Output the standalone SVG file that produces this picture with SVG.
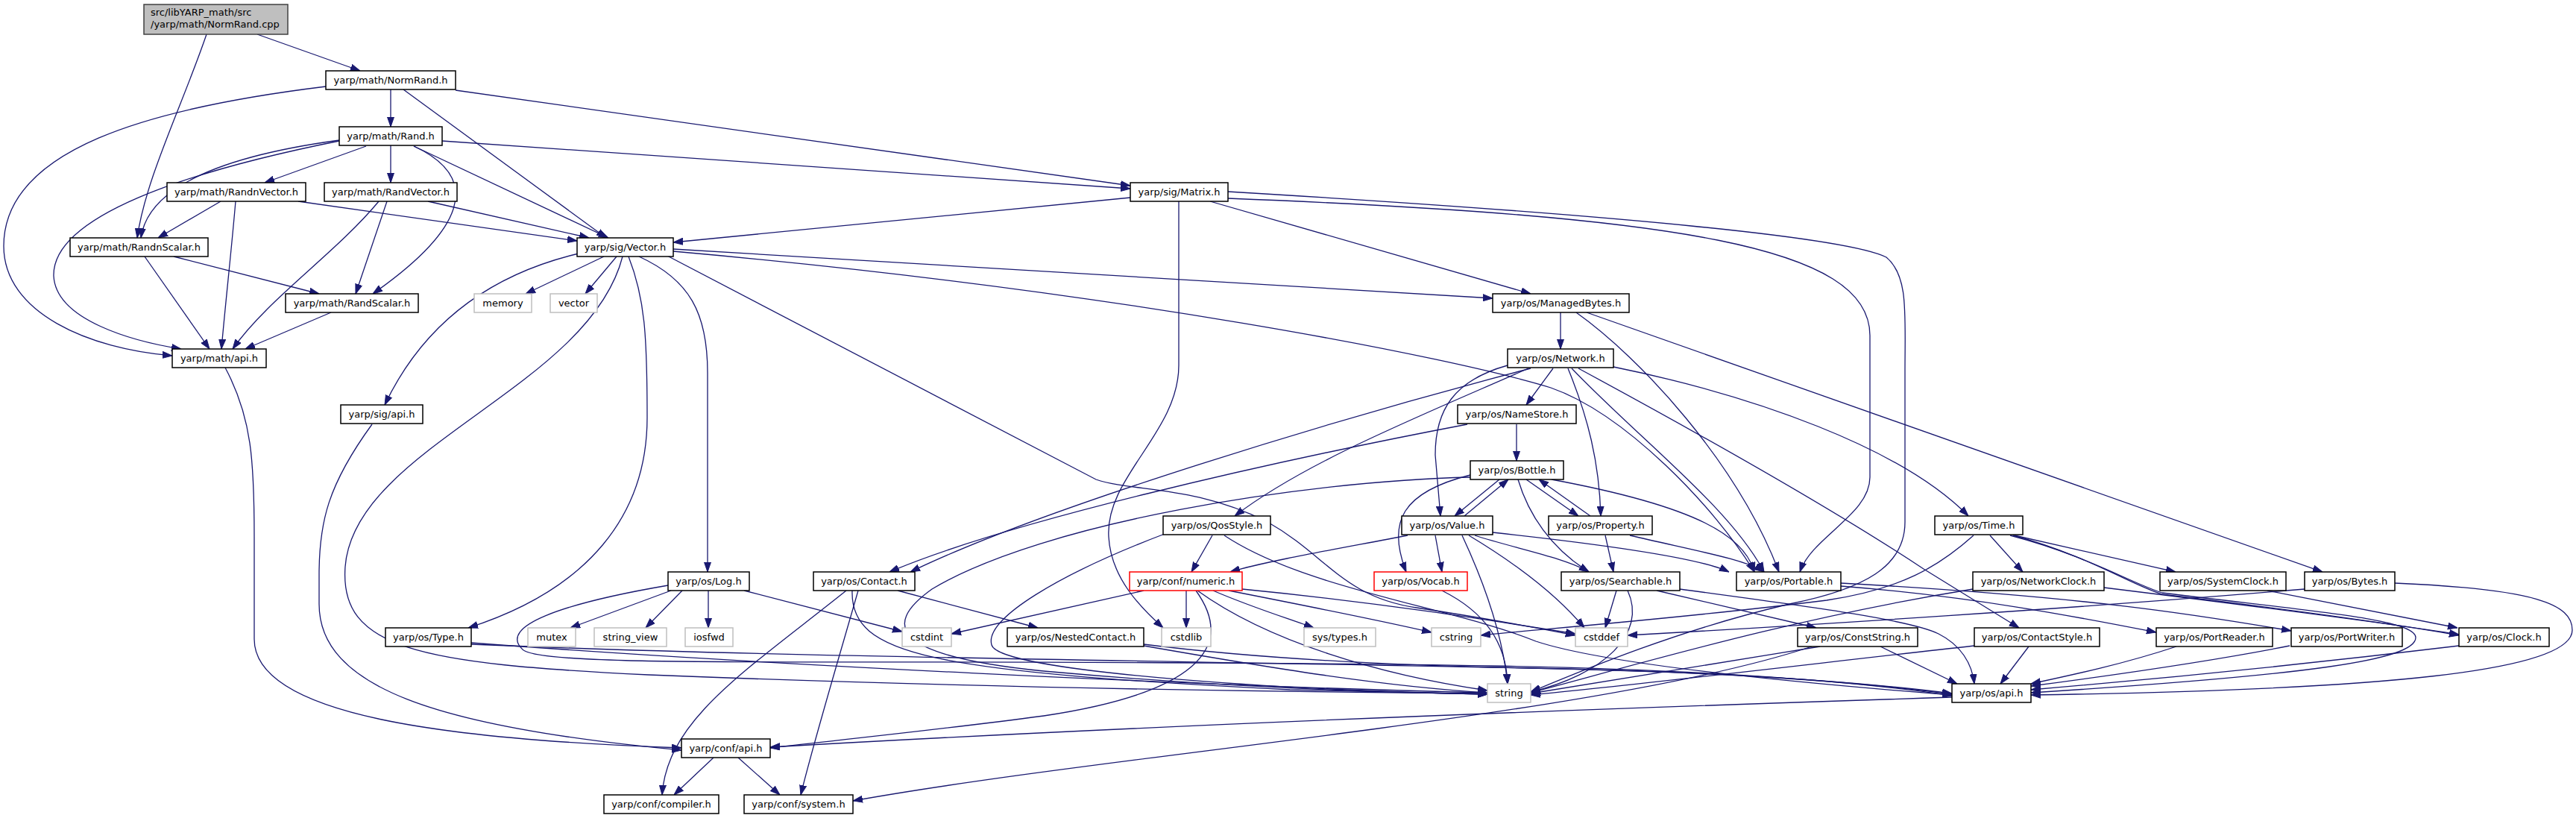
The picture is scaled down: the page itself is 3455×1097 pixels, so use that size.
<svg xmlns="http://www.w3.org/2000/svg" width="3455" height="1097" viewBox="0 0 3455 1097">
<defs>
<style>
.n rect{fill:#fff;stroke:#000;stroke-width:1.5}
.n.g rect{stroke:#bfbfbf}
.n.r rect{stroke:#ff0000}
.n.root rect{fill:#bfbfbf;stroke:#404040}
text{font-family:"DejaVu Sans","Liberation Sans",sans-serif;font-size:13px;text-anchor:middle;fill:#000}
.root text{text-anchor:start}
#edges path{fill:none;stroke:#191970;stroke-width:1.3;marker-end:url(#a)}
</style>
<marker id="a" viewBox="0 0 13 10" refX="13" refY="5" markerWidth="13" markerHeight="10" markerUnits="userSpaceOnUse" orient="auto"><path d="M0,0.5L13,5L0,9.5z" fill="#191970" stroke="#191970" stroke-width="1"/></marker>
</defs>
<rect width="3455" height="1097" fill="#fff"/>
<g id="edges">
<path d="M345,46 L483,95"/>
<path d="M277,46 C245,140 195,240 184,319"/>
<path d="M524,120 L524,170"/>
<path d="M541,120 L813,319"/>
<path d="M611,121 L1516,249"/>
<path d="M437,116 C200,145 5,200 5,330 C5,420 120,468 231,477"/>
<path d="M491,196 L355,245"/>
<path d="M524,195 L524,245"/>
<path d="M455,188 C330,205 200,240 189,319"/>
<path d="M555,196 L816,319"/>
<path d="M593,189 L1516,253"/>
<path d="M455,189 C250,230 70,290 72,370 C75,430 180,458 243,468"/>
<path d="M555,196 C650,240 620,310 500,394"/>
<path d="M296,270 L212,319"/>
<path d="M316,270 C310,340 303,400 297,468"/>
<path d="M400,270 L774,323"/>
<path d="M519,270 L477,394"/>
<path d="M508,270 C450,340 360,400 312,468"/>
<path d="M574,270 L790,319"/>
<path d="M194,344 L281,468"/>
<path d="M233,344 L428,394"/>
<path d="M444,419 L329,468"/>
<path d="M302,493 C338,560 341,620 341,720 L341,857 C341,960 600,992 914,1003"/>
<path d="M499,569 C440,650 428,700 428,770 L428,810 C428,920 580,975 914,1006"/>
<path d="M1516,265 L903,325"/>
<path d="M776,340 C650,370 565,440 516,543"/>
<path d="M810,344 L705,394"/>
<path d="M827,344 L785,394"/>
<path d="M857,344 C925,375 949,420 949,500 L949,767"/>
<path d="M843,344 C865,400 868,450 868,560 C868,690 790,790 628,842"/>
<path d="M835,344 C790,520 475,600 463,760 C455,870 560,890 870,905 C1300,922 1700,928 1995,930"/>
<path d="M893,342 L1470,643 C1520,660 1600,650 1700,700 C1780,745 1800,800 1900,815 C2000,830 2060,842 2113,852"/>
<path d="M903,334 L2002,400"/>
<path d="M903,337 C1500,390 1950,480 2080,520 C2180,555 2300,680 2353,767"/>
<path d="M1623,270 L2053,394"/>
<path d="M1647,266 C2250,290 2508,330 2508,450 L2508,640 C2508,690 2430,720 2414,767"/>
<path d="M1581,270 L1581,490 C1581,580 1482,640 1487,720 C1490,775 1530,815 1560,842"/>
<path d="M1647,257 C2200,290 2480,320 2530,345 C2560,370 2555,420 2555,500 L2555,700 C2555,760 2500,790 2400,810 C2250,845 2120,900 2053,928"/>
<path d="M2093,419 L2093,468"/>
<path d="M2114,419 C2200,480 2330,620 2386,767"/>
<path d="M2128,419 L3115,767"/>
<path d="M2083,494 L2047,543"/>
<path d="M2022,490 C1950,510 1925,550 1925,610 L1932,692"/>
<path d="M2103,494 C2130,560 2145,620 2147,692"/>
<path d="M2053,494 C1800,560 1400,680 1221,767"/>
<path d="M2050,494 C1900,560 1750,620 1656,692"/>
<path d="M2108,494 C2200,590 2320,680 2366,767"/>
<path d="M2117,494 C2350,620 2500,710 2580,763 L2708,842"/>
<path d="M2164,492 C2350,530 2550,600 2640,692"/>
<path d="M2034,569 L2034,618"/>
<path d="M1968,569 C1700,620 1350,700 1193,767"/>
<path d="M2011,643 L1951,692"/>
<path d="M1964,692 L2023,643"/>
<path d="M2047,643 L2117,692"/>
<path d="M2133,692 L2064,643"/>
<path d="M2081,643 C2280,680 2340,720 2353,767"/>
<path d="M2036,643 C2050,690 2080,735 2131,767"/>
<path d="M1972,637 C1880,660 1860,700 1886,767"/>
<path d="M1972,640 C1750,645 1400,700 1250,790 C1180,840 1200,880 1400,900 C1600,918 1800,928 1995,931"/>
<path d="M1925,718 L1934,767"/>
<path d="M1888,718 C1800,735 1700,752 1650,767"/>
<path d="M1978,718 C2030,735 2100,748 2131,767"/>
<path d="M2002,714 C2150,730 2280,748 2319,767"/>
<path d="M1961,718 C1990,780 2015,850 2022,917"/>
<path d="M1970,718 C2040,760 2090,800 2125,842"/>
<path d="M2153,718 L2164,767"/>
<path d="M2186,718 C2280,740 2340,750 2366,767"/>
<path d="M1626,718 L1598,767"/>
<path d="M1562,716 C1420,770 1320,830 1330,865 C1340,900 1700,925 1995,931"/>
<path d="M1642,718 C1750,790 1950,815 2060,860 C2150,890 2400,915 2618,932"/>
<path d="M1204,792 L1392,842"/>
<path d="M1143,792 C1140,880 1250,900 1730,925 L1995,931"/>
<path d="M1135,792 C1000,900 895,965 888,1066"/>
<path d="M1151,792 C1120,900 1090,1000 1074,1066"/>
<path d="M900,792 L765,842"/>
<path d="M915,792 L866,842"/>
<path d="M950,792 L950,842"/>
<path d="M998,792 L1210,847"/>
<path d="M896,785 C750,810 670,840 700,870 C720,900 1200,880 2000,893 C2300,898 2500,915 2618,933"/>
<path d="M632,862 C1000,890 1600,920 1995,929"/>
<path d="M632,864 C1000,880 1500,885 2000,895 C2300,900 2500,915 2618,930"/>
<path d="M1534,792 L1276,850"/>
<path d="M1591,792 L1591,842"/>
<path d="M1604,792 C1660,870 1600,930 1400,960 C1250,980 1100,995 1033,1003"/>
<path d="M1627,792 C1680,815 1730,830 1762,842"/>
<path d="M1648,792 C1750,812 1850,832 1920,848"/>
<path d="M1606,792 C1700,860 1850,905 1995,926"/>
<path d="M1666,790 C1850,808 2000,832 2113,850"/>
<path d="M1934,792 C1990,820 2020,860 2022,917"/>
<path d="M2168,792 L2153,842"/>
<path d="M2183,792 C2210,850 2150,905 2053,928"/>
<path d="M2222,792 L2436,842"/>
<path d="M2253,790 C2400,810 2560,830 2600,850 C2630,865 2645,890 2648,917"/>
<path d="M2469,786 C2650,800 2800,830 2892,848"/>
<path d="M2469,782 C2800,800 2950,825 3073,846"/>
<path d="M2441,867 C2300,890 2150,915 2053,930"/>
<path d="M2522,867 L2625,917"/>
<path d="M2430,867 C2150,960 1500,1010 1144,1074"/>
<path d="M1534,864 C1700,885 1900,893 2050,896 C2300,900 2500,915 2618,931"/>
<path d="M1534,866 C1700,895 1850,920 1995,929"/>
<path d="M2721,867 L2683,917"/>
<path d="M2648,866 C2450,888 2200,918 2053,932"/>
<path d="M2822,788 C3000,810 3200,835 3298,851"/>
<path d="M2646,790 C2400,830 2200,890 2053,929"/>
<path d="M2669,718 L2713,767"/>
<path d="M2702,718 L2918,767"/>
<path d="M2700,718 C2800,745 2860,785 2900,797 C3050,815 3200,835 3298,852"/>
<path d="M2696,718 C2800,745 2860,783 2900,795 C3100,820 3240,830 3240,855 C3240,885 3100,905 2724,929"/>
<path d="M2647,718 C2600,760 2550,790 2450,805 C2250,830 2050,845 1986,852"/>
<path d="M3041,792 L3296,842"/>
<path d="M3212,782 C3400,790 3450,810 3450,845 C3450,900 3200,925 2724,932"/>
<path d="M3091,790 C2800,815 2400,840 2183,852"/>
<path d="M3298,866 C3100,890 2900,910 2724,925"/>
<path d="M2919,867 C2850,890 2780,905 2724,917"/>
<path d="M3071,866 C2950,890 2800,910 2724,920"/>
<path d="M2618,935 C2000,955 1500,975 1033,1002"/>
<path d="M957,1016 L904,1066"/>
<path d="M990,1016 L1046,1066"/>
</g>
<g id="n_cpp" class="n root"><rect x="193" y="6" width="193" height="40"/><text x="202" y="21">src/libYARP_math/src</text><text x="202" y="37">/yarp/math/NormRand.cpp</text></g>
<g id="n_normrand" class="n"><rect x="437" y="95" width="174" height="25"/><text x="524" y="112">yarp/math/NormRand.h</text></g>
<g id="n_rand" class="n"><rect x="455" y="170" width="138" height="25"/><text x="524" y="187">yarp/math/Rand.h</text></g>
<g id="n_randnvector" class="n"><rect x="224" y="245" width="186" height="25"/><text x="317" y="262">yarp/math/RandnVector.h</text></g>
<g id="n_randvector" class="n"><rect x="435" y="245" width="178" height="25"/><text x="524" y="262">yarp/math/RandVector.h</text></g>
<g id="n_randnscalar" class="n"><rect x="94" y="319" width="185" height="25"/><text x="186.5" y="336">yarp/math/RandnScalar.h</text></g>
<g id="n_vector" class="n"><rect x="774" y="319" width="129" height="25"/><text x="838.5" y="336">yarp/sig/Vector.h</text></g>
<g id="n_matrix" class="n"><rect x="1516" y="245" width="131" height="25"/><text x="1581.5" y="262">yarp/sig/Matrix.h</text></g>
<g id="n_randscalar" class="n"><rect x="383" y="394" width="178" height="25"/><text x="472" y="411">yarp/math/RandScalar.h</text></g>
<g id="n_memory" class="n g"><rect x="636" y="394" width="77" height="25"/><text x="674.5" y="411">memory</text></g>
<g id="n_vectorstd" class="n g"><rect x="738" y="394" width="63" height="25"/><text x="769.5" y="411">vector</text></g>
<g id="n_mathapi" class="n"><rect x="231" y="468" width="126" height="25"/><text x="294" y="485">yarp/math/api.h</text></g>
<g id="n_sigapi" class="n"><rect x="457" y="543" width="110" height="25"/><text x="512" y="560">yarp/sig/api.h</text></g>
<g id="n_managedbytes" class="n"><rect x="2002" y="394" width="183" height="25"/><text x="2093.5" y="411">yarp/os/ManagedBytes.h</text></g>
<g id="n_network" class="n"><rect x="2022" y="468" width="142" height="25"/><text x="2093" y="485">yarp/os/Network.h</text></g>
<g id="n_namestore" class="n"><rect x="1955" y="543" width="159" height="25"/><text x="2034.5" y="560">yarp/os/NameStore.h</text></g>
<g id="n_bottle" class="n"><rect x="1972" y="618" width="125" height="25"/><text x="2034.5" y="635">yarp/os/Bottle.h</text></g>
<g id="n_value" class="n"><rect x="1880" y="692" width="122" height="25"/><text x="1941" y="709">yarp/os/Value.h</text></g>
<g id="n_property" class="n"><rect x="2077" y="692" width="139" height="25"/><text x="2146.5" y="709">yarp/os/Property.h</text></g>
<g id="n_qosstyle" class="n"><rect x="1560" y="692" width="144" height="25"/><text x="1632" y="709">yarp/os/QosStyle.h</text></g>
<g id="n_time" class="n"><rect x="2595" y="692" width="118" height="25"/><text x="2654" y="709">yarp/os/Time.h</text></g>
<g id="n_log" class="n"><rect x="896" y="767" width="109" height="25"/><text x="950.5" y="784">yarp/os/Log.h</text></g>
<g id="n_contact" class="n"><rect x="1091" y="767" width="136" height="25"/><text x="1159" y="784">yarp/os/Contact.h</text></g>
<g id="n_numeric" class="n r"><rect x="1515" y="767" width="151" height="25"/><text x="1590.5" y="784">yarp/conf/numeric.h</text></g>
<g id="n_vocab" class="n r"><rect x="1843" y="767" width="125" height="25"/><text x="1905.5" y="784">yarp/os/Vocab.h</text></g>
<g id="n_searchable" class="n"><rect x="2094" y="767" width="159" height="25"/><text x="2173.5" y="784">yarp/os/Searchable.h</text></g>
<g id="n_portable" class="n"><rect x="2329" y="767" width="140" height="25"/><text x="2399" y="784">yarp/os/Portable.h</text></g>
<g id="n_networkclock" class="n"><rect x="2646" y="767" width="176" height="25"/><text x="2734" y="784">yarp/os/NetworkClock.h</text></g>
<g id="n_systemclock" class="n"><rect x="2897" y="767" width="169" height="25"/><text x="2981.5" y="784">yarp/os/SystemClock.h</text></g>
<g id="n_bytes" class="n"><rect x="3091" y="767" width="121" height="25"/><text x="3151.5" y="784">yarp/os/Bytes.h</text></g>
<g id="n_type" class="n"><rect x="517" y="842" width="115" height="25"/><text x="574.5" y="859">yarp/os/Type.h</text></g>
<g id="n_mutex" class="n g"><rect x="708" y="842" width="64" height="25"/><text x="740" y="859">mutex</text></g>
<g id="n_string_view" class="n g"><rect x="797" y="842" width="97" height="25"/><text x="845.5" y="859">string_view</text></g>
<g id="n_iosfwd" class="n g"><rect x="919" y="842" width="64" height="25"/><text x="951" y="859">iosfwd</text></g>
<g id="n_cstdint" class="n g"><rect x="1210" y="842" width="66" height="25"/><text x="1243" y="859">cstdint</text></g>
<g id="n_nestedcontact" class="n"><rect x="1351" y="842" width="183" height="25"/><text x="1442.5" y="859">yarp/os/NestedContact.h</text></g>
<g id="n_cstdlib" class="n g"><rect x="1558" y="842" width="66" height="25"/><text x="1591" y="859">cstdlib</text></g>
<g id="n_systypes" class="n g"><rect x="1749" y="842" width="96" height="25"/><text x="1797" y="859">sys/types.h</text></g>
<g id="n_cstring" class="n g"><rect x="1920" y="842" width="66" height="25"/><text x="1953" y="859">cstring</text></g>
<g id="n_cstddef" class="n g"><rect x="2113" y="842" width="70" height="25"/><text x="2148" y="859">cstddef</text></g>
<g id="n_conststring" class="n"><rect x="2411" y="842" width="161" height="25"/><text x="2491.5" y="859">yarp/os/ConstString.h</text></g>
<g id="n_contactstyle" class="n"><rect x="2648" y="842" width="168" height="25"/><text x="2732" y="859">yarp/os/ContactStyle.h</text></g>
<g id="n_portreader" class="n"><rect x="2892" y="842" width="156" height="25"/><text x="2970" y="859">yarp/os/PortReader.h</text></g>
<g id="n_portwriter" class="n"><rect x="3073" y="842" width="149" height="25"/><text x="3147.5" y="859">yarp/os/PortWriter.h</text></g>
<g id="n_clock" class="n"><rect x="3298" y="842" width="121" height="25"/><text x="3358.5" y="859">yarp/os/Clock.h</text></g>
<g id="n_string" class="n g"><rect x="1995" y="917" width="58" height="25"/><text x="2024" y="934">string</text></g>
<g id="n_osapi" class="n"><rect x="2618" y="917" width="106" height="25"/><text x="2671" y="934">yarp/os/api.h</text></g>
<g id="n_confapi" class="n"><rect x="914" y="991" width="119" height="25"/><text x="973.5" y="1008">yarp/conf/api.h</text></g>
<g id="n_compiler" class="n"><rect x="810" y="1066" width="154" height="25"/><text x="887" y="1083">yarp/conf/compiler.h</text></g>
<g id="n_system" class="n"><rect x="998" y="1066" width="146" height="25"/><text x="1071" y="1083">yarp/conf/system.h</text></g>
</svg>
